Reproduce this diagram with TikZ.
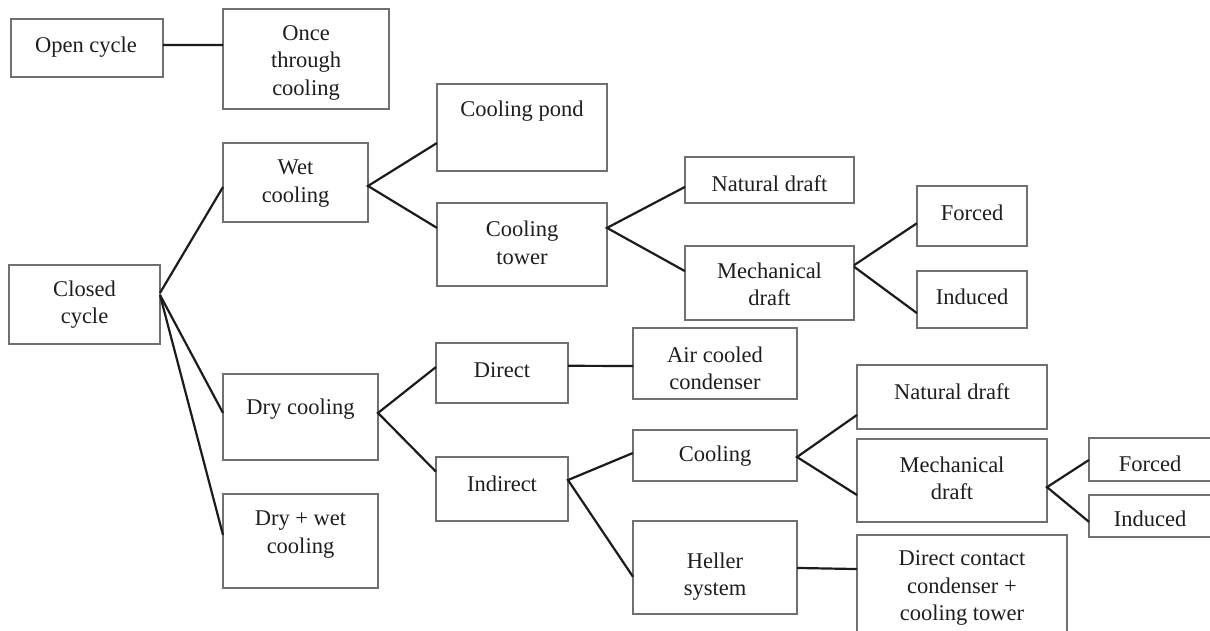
\documentclass[tikz,border=0pt]{standalone}
\usepackage{fontspec}
\setmainfont{Liberation Serif}
\usetikzlibrary{calc}
\definecolor{frame}{HTML}{707070}
\definecolor{wire}{HTML}{1C1C1C}
\definecolor{ink}{HTML}{1E1E1E}
\tikzset{
  box/.style={draw=frame, line width=1.2pt, rectangle, inner sep=0pt, outer sep=0pt},
  txt/.style={inner sep=0pt, align=center, text=ink, yshift=-2pt,
    font=\fontsize{22.5}{27.5}\selectfont},
  link/.style={draw=wire, line width=2.2pt}
}
\begin{document}
\begin{tikzpicture}[x=1pt, y=-1pt]
\useasboundingbox (0,0) rectangle (1210,631);
\fill[white] (0,0) rectangle (1210,631);
\clip (0,0) rectangle (1210,631);

% boxes
\node[box, minimum width=152, minimum height=58]  (open)     at (87,48)      {};
\node[box, minimum width=166, minimum height=100] (once)     at (306,59)     {};
\node[box, minimum width=145, minimum height=79]  (wet)      at (295.5,182.5){};
\node[box, minimum width=151, minimum height=79]  (closed)   at (84.5,304.5) {};
\node[box, minimum width=170, minimum height=87]  (pond)     at (522,127.5)  {};
\node[box, minimum width=170, minimum height=83]  (tower)    at (522,244.5)  {};
\node[box, minimum width=169, minimum height=46]  (nat1)     at (769.5,180)  {};
\node[box, minimum width=169, minimum height=74]  (mech1)    at (769.5,283)  {};
\node[box, minimum width=110, minimum height=60]  (forced1)  at (972,216)    {};
\node[box, minimum width=110, minimum height=57]  (induced1) at (972,299.5)  {};
\node[box, minimum width=155, minimum height=86]  (dry)      at (300.5,417)  {};
\node[box, minimum width=155, minimum height=94]  (drywet)   at (300.5,541)  {};
\node[box, minimum width=132, minimum height=60]  (direct)   at (502,373)    {};
\node[box, minimum width=164, minimum height=71]  (air)      at (715,363.5)  {};
\node[box, minimum width=132, minimum height=64]  (indirect) at (502,489)    {};
\node[box, minimum width=164, minimum height=51]  (cooling)  at (715,455.5)  {};
\node[box, minimum width=164, minimum height=93]  (heller)   at (715,567.5)  {};
\node[box, minimum width=190, minimum height=64]  (nat2)     at (952,397)    {};
\node[box, minimum width=190, minimum height=83]  (mech2)    at (952,480.5)  {};
\node[box, minimum width=141, minimum height=43]  (forced2)  at (1159.5,459.5){};
\node[box, minimum width=141, minimum height=42]  (induced2) at (1159.5,516) {};
\node[box, minimum width=210, minimum height=115] (dcc)      at (962,592.5)  {};

% labels
\node[txt] (open-t)     at (86,45)      {Open cycle};
\node[txt] (once-t)     at (306,60.5)   {Once\\through\\cooling};
\node[txt] (wet-t)      at (295.5,181.5){Wet\\cooling};
\node[txt] (closed-t)   at (84.5,302.5) {Closed\\cycle};
\node[txt] (pond-t)     at (522,109)    {Cooling pond};
\node[txt] (tower-t)    at (522,241)    {Cooling\\tower};
\node[txt] (nat1-t)     at (769.5,182)  {Natural draft};
\node[txt] (mech1-t)    at (769.5,282.5){Mechanical\\draft};
\node[txt] (forced1-t)  at (972,211)    {Forced};
\node[txt] (induced1-t) at (972,295)    {Induced};
\node[txt] (dry-t)      at (300.5,407)  {Dry cooling};
\node[txt] (drywet-t)   at (300.5,532.5){Dry + wet\\cooling};
\node[txt] (direct-t)   at (502,368)    {Direct};
\node[txt] (air-t)      at (715,366.5)  {Air cooled\\condenser};
\node[txt] (indirect-t) at (502,482)    {Indirect};
\node[txt] (cooling-t)  at (715,454)    {Cooling};
\node[txt] (heller-t)   at (715,574.5)  {Heller\\system};
\node[txt] (nat2-t)     at (952,390)    {Natural draft};
\node[txt] (mech2-t)    at (952,476.5)  {Mechanical\\draft};
\node[txt] (forced2-t)  at (1150,462)   {Forced};
\node[txt] (induced2-t) at (1150,517)   {Induced};
\node[txt] (dcc-t)      at (962,586)    {Direct contact\\condenser +\\cooling tower};

% connectors
\draw[link] ($(open.north east)!.45!(open.south east)$) -- ($(once.north west)!.36!(once.south west)$);
\draw[link] ($(closed.north east)!.354!(closed.south east)$) -- ($(wet.north west)!.557!(wet.south west)$);
\draw[link] ($(closed.north east)!.38!(closed.south east)$) -- ($(dry.north west)!.453!(dry.south west)$);
\draw[link] ($(closed.north east)!.38!(closed.south east)$) -- ($(drywet.north west)!.436!(drywet.south west)$);
\draw[link] ($(pond.north west)!.678!(pond.south west)$) -- ($(wet.north east)!.544!(wet.south east)$)
  -- ($(tower.north west)!.30!(tower.south west)$);
\draw[link] ($(nat1.north west)!.65!(nat1.south west)$) -- ($(tower.north east)!.30!(tower.south east)$)
  -- ($(mech1.north west)!.34!(mech1.south west)$);
\draw[link] ($(forced1.north west)!.62!(forced1.south west)$) -- ($(mech1.north east)!.26!(mech1.south east)$);
\draw[link] ($(mech1.north east)!.28!(mech1.south east)$) -- ($(induced1.north west)!.74!(induced1.south west)$);
\draw[link] ($(direct.north west)!.40!(direct.south west)$) -- ($(dry.north east)!.453!(dry.south east)$)
  -- ($(indirect.north west)!.23!(indirect.south west)$);
\draw[link] ($(direct.north east)!.38!(direct.south east)$) -- ($(air.north west)!.535!(air.south west)$);
\draw[link] ($(cooling.north west)!.45!(cooling.south west)$) -- ($(indirect.north east)!.36!(indirect.south east)$)
  -- ($(heller.north west)!.60!(heller.south west)$);
\draw[link] ($(nat2.north west)!.78!(nat2.south west)$) -- ($(cooling.north east)!.53!(cooling.south east)$)
  -- ($(mech2.north west)!.675!(mech2.south west)$);
\draw[link] ($(forced2.north west)!.51!(forced2.south west)$) -- ($(mech2.north east)!.58!(mech2.south east)$)
  -- ($(induced2.north west)!.64!(induced2.south west)$);
\draw[link] ($(heller.north east)!.505!(heller.south east)$) -- ($(dcc.north west)!.296!(dcc.south west)$);
\end{tikzpicture}
\end{document}
